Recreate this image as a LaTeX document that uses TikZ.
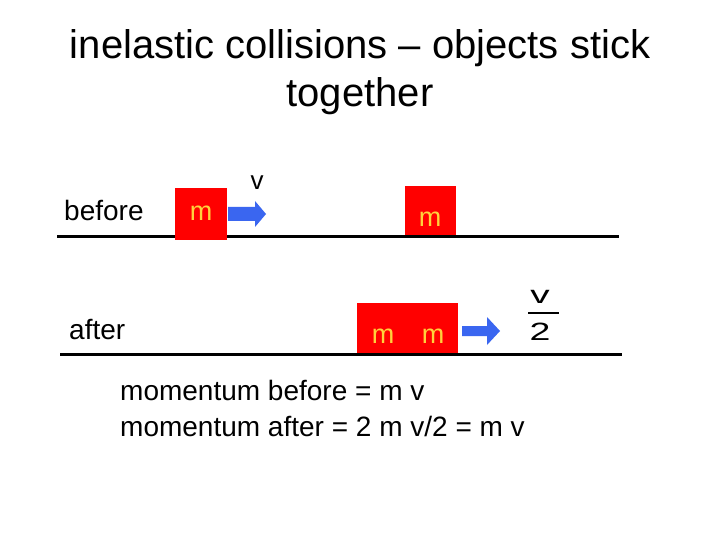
\documentclass[tikz,border=0pt]{standalone}
\usepackage{fontspec}
\setmainfont{Liberation Sans}
\usetikzlibrary{calc}
\definecolor{boxred}{RGB}{255,0,0}
\definecolor{mcol}{RGB}{255,210,60}
\definecolor{arrblue}{RGB}{58,102,240}
\begin{document}
\begin{tikzpicture}[x=1pt,y=-1pt,
  title/.style={anchor=base,inner sep=0pt,font=\fontsize{40}{48}\selectfont},
  lbl/.style={anchor=base west,inner sep=0pt,font=\fontsize{28}{34}\selectfont},
  mtext/.style={anchor=base,inner sep=0pt,text=mcol,font=\fontsize{27}{32}\selectfont},
  fractext/.style={anchor=base,inner sep=0pt,font=\fontsize{25}{30}\selectfont},
  mass/.style={fill=boxred,draw=none},
  ground/.style={line width=3pt},
  arrowshape/.style={fill=arrblue,draw=none}]
\useasboundingbox[fill=white] (0,0) rectangle (720,540);
% title
\node[title] (t1) at (360,59) {inelastic collisions – objects stick};
\node[title] (t2) at (360,107) {together};
% labels
\node[lbl] (before) at (64,221) {before};
\node[lbl] (after) at (69,339) {after};
% ground lines
\coordinate (g1a) at (57,236); \coordinate (g1b) at (619,236);
\coordinate (g2a) at (60,354); \coordinate (g2b) at (622,354);
\draw[ground] (g1a) -- (g1b);
\draw[ground] (g2a) -- (g2b);
% before masses
\fill[mass] (175,188) rectangle (227,240);
\node[mtext] (m1) at (201,221) {m};
\fill[mass] (405,186) rectangle (456,235);
\node[mtext] (m2) at (430,226) {m};
% arrow before
\fill[arrowshape] (228,207) -- (255,207) -- (255,201) -- (266,214) -- (255,227) -- (255,221) -- (228,221) -- cycle;
\node[anchor=base,inner sep=0pt,font=\fontsize{26}{30}\selectfont] (v) at (257,190) {v};
% after masses
\fill[mass] (357,303) rectangle (458,353);
\node[mtext] (m3) at (383,343) {m};
\node[mtext] (m4) at (433,343) {m};
% arrow after
\fill[arrowshape] (462,326) -- (487,326) -- (487,317) -- (500,331) -- (487,345) -- (487,336) -- (462,336) -- cycle;
% fraction v/2
\node[fractext] (fv) at (540,303) {\scalebox{1.55}[1]{v}};
\draw[line width=2.5pt] (528,313) -- (559,313);
\node[fractext] (f2) at (540,340) {\scalebox{1.5}[1]{2}};
% momentum text
\node[lbl] (mb) at (120,400) {momentum before = m v};
\node[lbl] (ma) at (120,436) {momentum after = 2 m v/2 = m v};
\end{tikzpicture}
\end{document}
